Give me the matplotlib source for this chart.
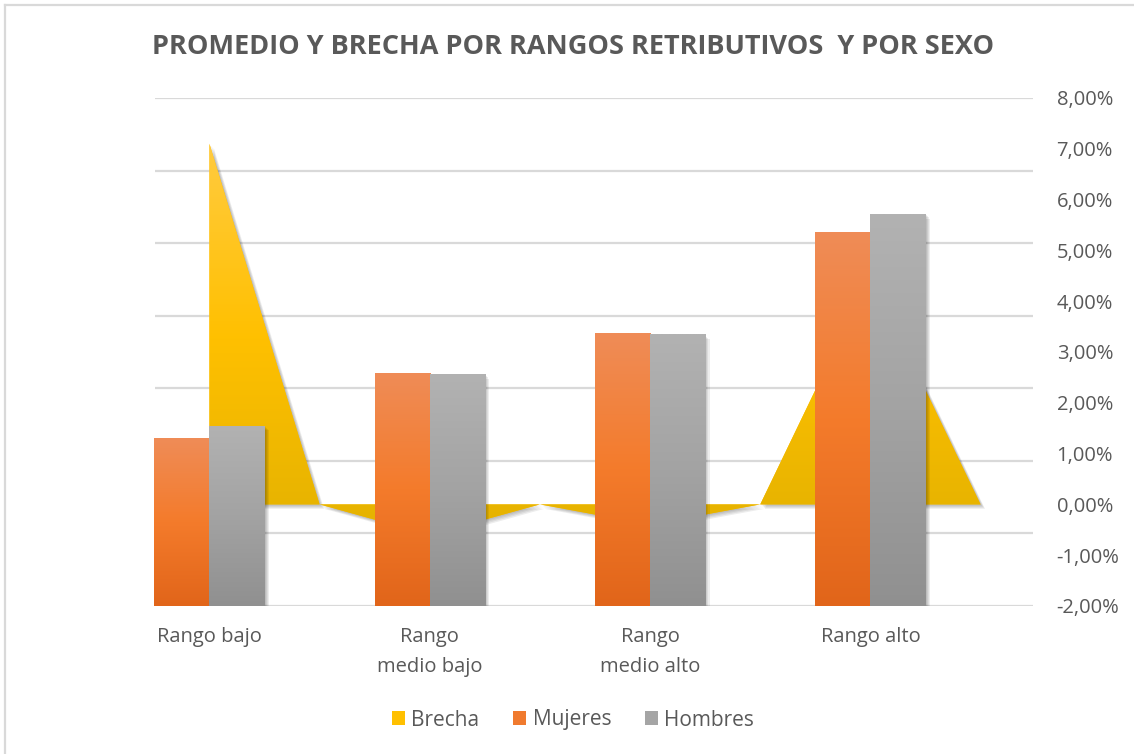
import matplotlib
matplotlib.use('Agg')
import numpy as np
from matplotlib import pyplot as plt
from matplotlib import patheffects as pe
from matplotlib.colors import LinearSegmentedColormap
from matplotlib.patches import Patch
from matplotlib.lines import Line2D
from matplotlib.ticker import FuncFormatter, MultipleLocator

plt.rcParams['font.family'] = ['Open Sans', 'DejaVu Sans']

# data
categorias = ['Rango bajo', 'Rango\nmedio bajo', 'Rango\nmedio alto', 'Rango alto']
mujeres = [1155, 1607, 1878, 2578]   # promedio (eje principal, oculto)
hombres = [1242, 1598, 1871, 2700]
brecha = [7.1, -0.6, -0.4, 4.5]      # % (eje secundario)

titulo = 'PROMEDIO Y BRECHA POR RANGOS RETRIBUTIVOS  Y POR SEXO'
texto = '#595959'
rejilla = '#D9D9D9'

W, H = 1134, 754
fig = plt.figure(figsize=(W / 100, H / 100), dpi=100)
rect = [155 / W, (H - 606) / H, (1033 - 155) / W, (606 - 98) / H]
ax = fig.add_axes(rect)          # gridlines + category labels
ax_area = ax.twinx()             # Brecha, right axis
ax_bar = ax.twinx()              # bars on top

x = np.arange(len(categorias))
ancho = 0.25

# area: the gap value sits on each category, back to zero half way between
area_x = np.arange(len(brecha) * 2) * 0.5
area_y = [v for b in brecha for v in (b, 0)]

# soft drop shadow (a few faint offset copies)
sombra = [pe.SimplePatchShadow(offset=(d, -d), shadow_rgbFace='black', alpha=0.07)
          for d in (0.8, 1.6, 2.4, 3.2)] + [pe.Normal()]

poly = ax_area.fill_between(area_x, 0, area_y, facecolor='#FFC000', linewidth=0,
                            path_effects=sombra, zorder=2)
cmap_area = LinearSegmentedColormap.from_list('brecha', ['#E4B200', '#FFC000', '#FFCB40'])
grad = np.linspace(0, 1, 256).reshape(-1, 1)
im = ax_area.imshow(grad, extent=(0, area_x[-1], min(area_y), max(area_y)), origin='lower',
                    aspect='auto', cmap=cmap_area, zorder=3)
im.set_clip_path(poly.get_paths()[0], transform=ax_area.transData)


def barras_degradado(axis, xs, vals, colores):
    cmap = LinearSegmentedColormap.from_list('g', colores)
    bars = axis.bar(xs, vals, ancho, color=colores[1], linewidth=0,
                    path_effects=sombra, zorder=2)
    for b in bars:
        x0, w, h = b.get_x(), b.get_width(), b.get_height()
        img = axis.imshow(grad, extent=(x0, x0 + w, 0, h), origin='lower',
                          aspect='auto', cmap=cmap, zorder=3)
        img.set_clip_path(b)


barras_degradado(ax_bar, x - ancho / 2, mujeres, ['#E1651A', '#F47B2B', '#EF8C57'])
barras_degradado(ax_bar, x + ancho / 2, hombres, ['#909090', '#A3A3A3', '#B2B2B2'])

# axes setup
for a in (ax, ax_area, ax_bar):
    a.set_xlim(-0.247, 3.738)
    for s in a.spines.values():
        s.set_visible(False)

ax.set_ylim(0, 3500)
ax_bar.set_ylim(0, 3500)
ax.yaxis.set_major_locator(MultipleLocator(500))
ax.grid(axis='y', color=rejilla, linewidth=1.6)
ax.tick_params(axis='y', left=False, labelleft=False)
ax_bar.tick_params(axis='y', right=False, labelright=False)

ax.set_xticks(x)
ax.set_xticklabels(categorias, fontsize=14.5, color=texto, linespacing=1.7)
ax.tick_params(axis='x', length=0, pad=15)

ax_area.set_ylim(-2, 8)
ax_area.yaxis.set_major_locator(MultipleLocator(1))
ax_area.yaxis.set_major_formatter(FuncFormatter(lambda v, p: f'{v:.2f}'.replace('.', ',') + '%'))
ax_area.tick_params(axis='y', length=0, pad=17, labelsize=14.5, labelcolor=texto)

fig.text(573 / W, 1 - 47 / H, titulo, ha='center', va='center', fontsize=19.5,
         fontweight='bold', color=texto)

handles = [Patch(facecolor='#FFC000'), Patch(facecolor='#F07A2E'), Patch(facecolor='#A5A5A5')]
fig.legend(handles, ['Brecha', 'Mujeres', 'Hombres'], loc='center', ncol=3,
           bbox_to_anchor=(573 / W, 1 - 720 / H), frameon=False, fontsize=15,
           handlelength=0.65, handleheight=0.65, handletextpad=0.3, columnspacing=1.6,
           labelcolor=texto)

# chart border (left and top edges visible)
fig.add_artist(Line2D([5 / W, 5 / W], [0, 1 - 5 / H], color=rejilla, lw=1.6))
fig.add_artist(Line2D([5 / W, 1], [1 - 5 / H, 1 - 5 / H], color=rejilla, lw=1.6))

fig.savefig('out.png', dpi=100)
